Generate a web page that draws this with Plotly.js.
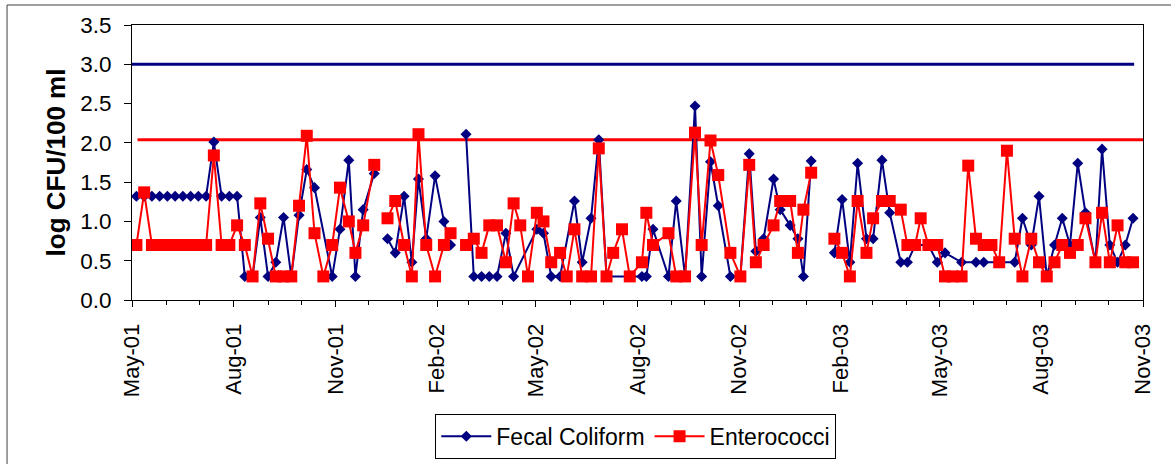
<!DOCTYPE html>
<html>
<head>
<meta charset="utf-8">
<script src="https://cdn.plot.ly/plotly-3.0.1.min.js"></script>
<style>html,body{margin:0;padding:0;background:#fff;}#chart{width:1171px;height:464px;}</style>
</head>
<body>
<div id="chart"></div>
<script>
// Sampling dates
const dates = [
 '2001-05-05','2001-05-12','2001-05-19','2001-05-26','2001-06-02','2001-06-09','2001-06-16','2001-06-23','2001-06-30','2001-07-07',
 '2001-07-14','2001-07-21','2001-07-28','2001-08-04','2001-08-11','2001-08-18','2001-08-25','2001-09-01','2001-09-08','2001-09-15',
 '2001-09-22','2001-09-29','2001-10-06','2001-10-13','2001-10-21','2001-10-29','2001-11-05','2001-11-13','2001-11-19','2001-11-26',
 '2001-12-06','2001-12-18','2001-12-25','2002-01-02','2002-01-09','2002-01-15','2002-01-22','2002-01-30','2002-02-07','2002-02-13',
 '2002-02-27','2002-03-06','2002-03-13','2002-03-20','2002-03-27','2002-04-04','2002-04-11','2002-04-17','2002-04-24','2002-05-02',
 '2002-05-08','2002-05-15','2002-05-23','2002-05-29','2002-06-05','2002-06-12','2002-06-20','2002-06-27','2002-07-04','2002-07-10',
 '2002-07-18','2002-07-25','2002-08-05','2002-08-09','2002-08-15','2002-08-29','2002-09-05','2002-09-13','2002-09-22','2002-09-28',
 '2002-10-06','2002-10-13','2002-10-24','2002-11-02','2002-11-10','2002-11-16','2002-11-23','2002-12-02','2002-12-08','2002-12-17',
 '2002-12-24','2002-12-29','2003-01-05','2003-01-26','2003-02-02','2003-02-09','2003-02-16','2003-02-24','2003-03-02','2003-03-10',
 '2003-03-17','2003-03-27','2003-04-02','2003-04-09','2003-04-14','2003-04-21','2003-04-29','2003-05-06','2003-05-13','2003-05-21',
 '2003-05-27','2003-06-03','2003-06-10','2003-06-17','2003-06-24','2003-07-01','2003-07-08','2003-07-15','2003-07-23','2003-07-30',
 '2003-08-06','2003-08-13','2003-08-20','2003-08-27','2003-09-03','2003-09-10','2003-09-19','2003-09-25','2003-10-02','2003-10-09',
 '2003-10-16','2003-10-23'
];
// log CFU/100 ml, null = not sampled
const fecalColiform = [
 1.32,1.32,1.32,1.32,1.32,1.32,1.32,1.32,1.32,1.32,
 2.01,1.32,1.32,1.32,0.30,0.30,1.05,0.30,0.48,1.05,
 0.30,1.08,1.66,1.43,null,0.30,0.90,1.78,0.30,1.15,
 1.61,0.78,0.60,1.32,0.48,1.54,0.78,1.58,1.00,0.70,
 2.11,0.30,0.30,0.30,0.30,0.85,0.30,null,null,0.90,
 0.85,0.30,0.30,null,1.26,0.48,1.04,2.04,0.30,null,
 null,0.30,0.30,0.30,0.90,0.30,1.26,0.30,2.47,0.30,
 1.76,1.20,0.30,0.30,1.86,0.62,0.78,1.54,1.15,0.95,
 0.78,0.30,1.77,0.60,1.28,0.48,1.74,0.78,0.78,1.78,
 1.11,0.48,0.48,0.70,null,0.70,0.48,0.60,null,0.48,
 null,0.48,0.48,null,null,null,0.48,1.04,0.70,1.32,
 0.30,0.70,1.04,0.70,1.74,1.11,0.48,1.92,0.70,0.48,
 0.70,1.04
];
const enterococci = [
 0.70,1.37,0.70,0.70,0.70,0.70,0.70,0.70,0.70,0.70,
 1.84,0.70,0.70,0.95,0.70,0.30,1.23,0.78,0.30,0.30,
 0.30,1.20,2.09,0.85,0.30,0.70,1.43,1.00,0.60,0.95,
 1.72,1.04,1.26,0.70,0.30,2.11,0.70,0.30,0.70,0.85,
 0.70,0.78,0.60,0.95,0.95,0.48,1.23,0.95,0.30,1.11,
 1.00,0.48,0.60,0.30,0.90,0.30,0.30,1.93,0.30,0.60,
 0.90,0.30,0.48,1.11,0.70,0.85,0.30,0.30,2.13,0.70,
 2.03,1.59,0.60,0.30,1.72,0.48,0.70,0.95,1.26,1.26,
 0.60,1.15,1.62,0.78,0.60,0.30,1.26,0.60,1.04,1.26,
 1.26,1.15,0.70,0.70,1.04,0.70,0.70,0.30,0.30,0.30,
 1.71,0.78,0.70,0.70,0.48,1.90,0.78,0.30,0.78,0.48,
 0.30,0.48,0.70,0.60,0.70,1.04,0.48,1.11,0.48,0.95,
 0.48,0.48
];
// breaks in the record (line is interrupted after these dates)
const breakAfter = ['2001-12-06','2002-02-13','2003-01-05'];
// guideline levels
const fecalLimit = 3.0;
const enteroLimit = 2.04;
const fecalLimitDates = ['2001-04-25','2003-10-24'];
const enteroLimitDates = ['2001-05-06','2003-11-03'];
const seriesNames = ['Fecal Coliform','Enterococci'];

function build(vals){
  const xs=[], ys=[];
  for(let i=0;i<dates.length;i++){
    if(vals[i]!==null){ xs.push(dates[i]); ys.push(vals[i]); }
    if(breakAfter.indexOf(dates[i])>=0){ xs.push(dates[i]); ys.push(null); }
  }
  return {xs, ys};
}
const fc = build(fecalColiform), en = build(enterococci);
const FONT = 'Liberation Sans, Arial, sans-serif';

const traces = [
  {x: fecalLimitDates, y: fecalLimitDates.map(()=>fecalLimit), mode:'lines', line:{color:'#000080', width:3},
   showlegend:false, hoverinfo:'skip'},
  {x: enteroLimitDates, y: enteroLimitDates.map(()=>enteroLimit), mode:'lines', line:{color:'#FF0000', width:3},
   showlegend:false, hoverinfo:'skip'},
  {x: fc.xs, y: fc.ys, name: seriesNames[0], mode:'lines+markers', connectgaps:false,
   line:{color:'#000080', width:2}, marker:{symbol:'diamond', size:8.5, color:'#000080'}},
  {x: en.xs, y: en.ys, name: seriesNames[1], mode:'lines+markers', connectgaps:false,
   line:{color:'#FF0000', width:2}, marker:{symbol:'square', size:12, color:'#FF0000'}}
];

const layout = {
  width:1171, height:464,
  margin:{l:132, r:28, t:25, b:164, pad:0, autoexpand:false},
  paper_bgcolor:'#fff', plot_bgcolor:'#fff',
  font:{family:FONT, color:'#000', size:22},
  showlegend:true,
  legend:{orientation:'h', x:0.3, xanchor:'left', y:-0.414, yanchor:'top',
    bordercolor:'#000', borderwidth:1, font:{size:23, family:FONT, color:'#000'},
    traceorder:'normal', itemwidth:50, tracegroupgap:0},
  xaxis:{type:'date', range:['2001-05-01','2003-11-01'], tick0:'2001-05-01', dtick:'M3',
    tickformat:'%b-%y', tickangle:-90, ticks:'outside', ticklen:6, tickcolor:'#000', tickwidth:1,
    showline:true, linecolor:'#000', linewidth:1, mirror:true, showgrid:false, zeroline:false,
    ticklabelstandoff:8, tickfont:{size:22, family:FONT, color:'#000'},
    minor:{dtick:'M1', tick0:'2001-05-01', ticks:'outside', ticklen:4, tickcolor:'#000', tickwidth:1, showgrid:false}},
  yaxis:{range:[0,3.5], dtick:0.5, tick0:0, tickformat:'.1f', ticks:'outside', ticklen:7, tickcolor:'#000',
    showline:true, linecolor:'#000', linewidth:1, mirror:true, showgrid:false, zeroline:false,
    ticklabelstandoff:8, tickfont:{size:22.5, family:FONT, color:'#000'},
    title:{text:'log CFU/100 ml', font:{size:26, family:FONT, weight:'bold', color:'#000'}, standoff:7}},
  shapes:[{type:'rect', xref:'paper', yref:'paper', x0:-0.1236, x1:1.06, y0:-0.65, y1:1.0727,
    line:{color:'#404040', width:1}, fillcolor:'rgba(0,0,0,0)', layer:'below'}]
};

Plotly.newPlot('chart', traces, layout, {staticPlot:true, displayModeBar:false});
</script>
</body>
</html>
